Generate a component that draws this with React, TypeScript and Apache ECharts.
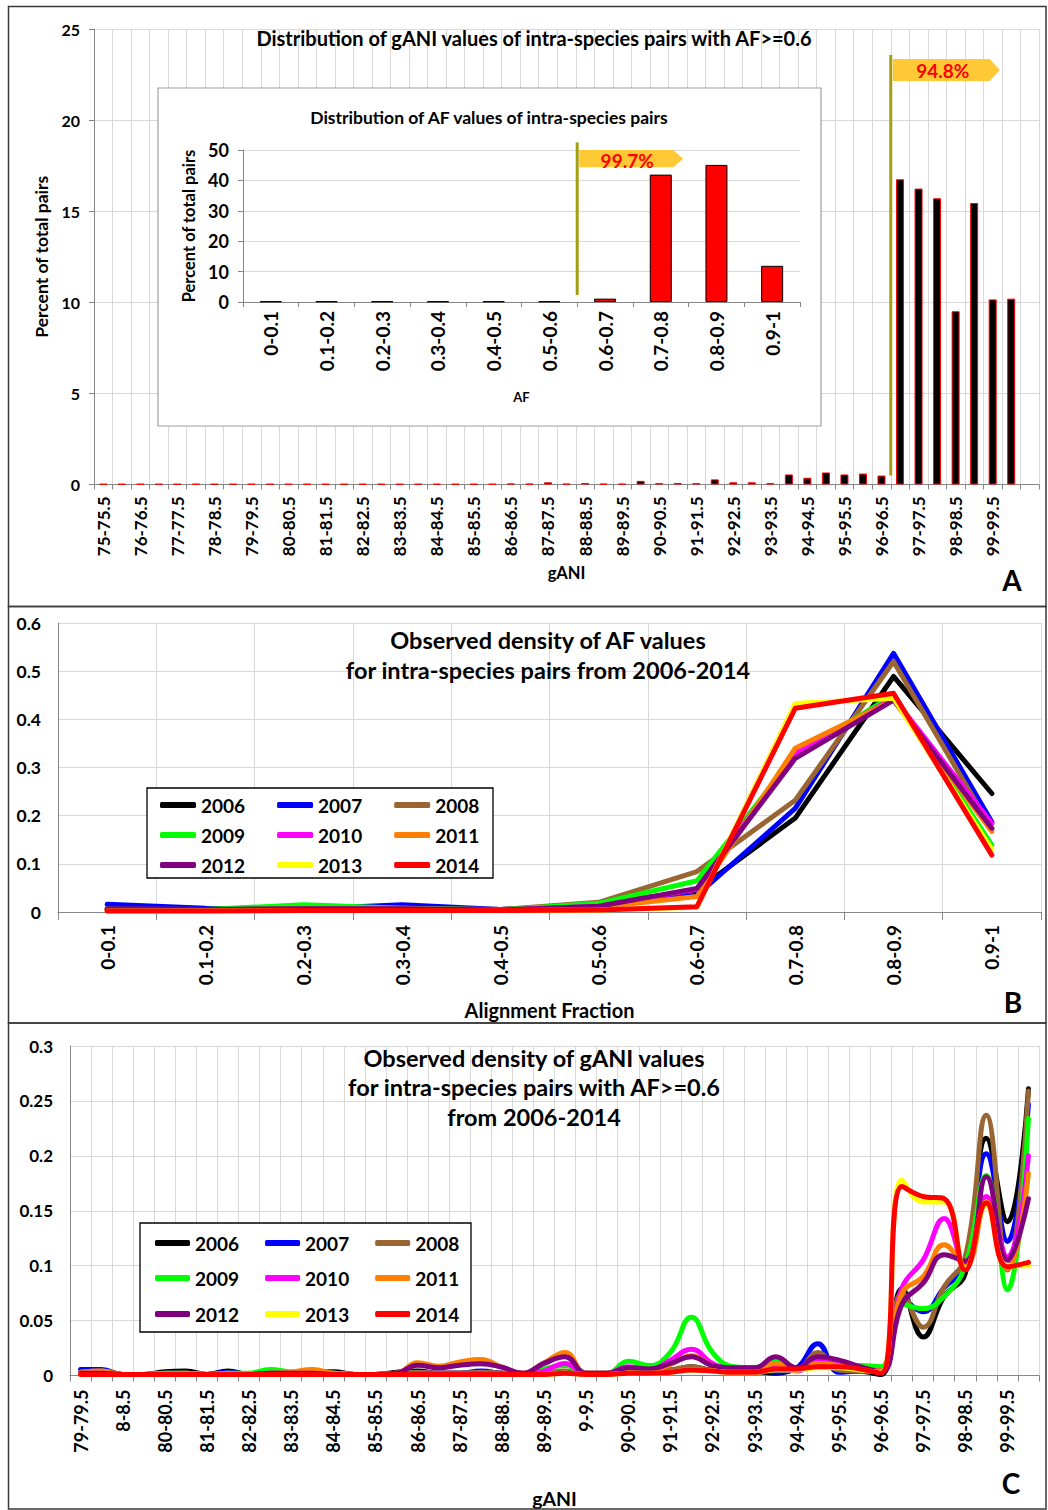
import React, { useEffect, useRef } from "react";
import * as echarts from "echarts";

// ---------- Panel A: gANI distribution (AF>=0.6) ----------
const ganiCats = ["75-75.5","75.5-76","76-76.5","76.5-77","77-77.5","77.5-78","78-78.5","78.5-79","79-79.5","79.5-80","80-80.5","80.5-81","81-81.5","81.5-82","82-82.5","82.5-83","83-83.5","83.5-84","84-84.5","84.5-85","85-85.5","85.5-86","86-86.5","86.5-87","87-87.5","87.5-88","88-88.5","88.5-89","89-89.5","89.5-90","90-90.5","90.5-91","91-91.5","91.5-92","92-92.5","92.5-93","93-93.5","93.5-94","94-94.5","94.5-95","95-95.5","95.5-96","96-96.5","96.5-97","97-97.5","97.5-98","98-98.5","98.5-99","99-99.5","99.5-100",""];
const ganiPercent = [0.03,0.03,0.03,0.03,0.03,0.03,0.03,0.03,0.03,0.03,0.03,0.03,0.03,0.03,0.03,0.03,0.03,0.03,0.03,0.03,0.03,0.03,0.05,0.04,0.12,0.04,0.08,0.04,0.04,0.2,0.07,0.08,0.07,0.28,0.12,0.12,0.07,0.55,0.37,0.66,0.55,0.6,0.49,16.75,16.24,15.71,9.51,15.45,10.16,10.2,null];
const ganiYTicks = [0, 25, 5];
const ganiShareLabel = "94.8%";

// ---------- Inset: AF distribution ----------
const afCats = ["0-0.1","0.1-0.2","0.2-0.3","0.3-0.4","0.4-0.5","0.5-0.6","0.6-0.7","0.7-0.8","0.8-0.9","0.9-1"];
const afPercent = [0.2,0.2,0.2,0.2,0.2,0.2,1.1,41.9,45.1,11.9];
const afYTicks = [0, 50, 10];
const afShareLabel = "99.7%";

// ---------- Panel B: density of AF per year ----------
const years = ["2006","2007","2008","2009","2010","2011","2012","2013","2014"];
const yearColors = ["#000000","#0000ff","#996633","#00ff00","#ff00ff","#ff8000","#800080","#ffff00","#ff0000"];
const afDens2006 = [0.006,0.005,0.01,0.008,0.005,0.015,0.045,0.195,0.489,0.246];
const afDens2007 = [0.016,0.008,0.006,0.015,0.005,0.012,0.035,0.215,0.537,0.187];
const afDens2008 = [0.006,0.005,0.008,0.008,0.005,0.02,0.084,0.232,0.52,0.172];
const afDens2009 = [0.005,0.005,0.015,0.008,0.004,0.018,0.065,0.326,0.45,0.139];
const afDens2010 = [0.004,0.004,0.006,0.006,0.004,0.012,0.047,0.33,0.444,0.184];
const afDens2011 = [0.004,0.004,0.006,0.006,0.004,0.01,0.032,0.34,0.44,0.167];
const afDens2012 = [0.006,0.005,0.007,0.007,0.004,0.012,0.049,0.319,0.44,0.174];
const afDens2013 = [0.002,0.002,0.003,0.003,0.003,0.004,0.01,0.433,0.444,0.13];
const afDens2014 = [0.002,0.002,0.003,0.003,0.003,0.004,0.011,0.423,0.454,0.118];
const afDensYTicks = [0, 0.6, 0.1];

// ---------- Panel C: density of gANI per year ----------
const gdCats = ["79-79.5","79.5-8","8-8.5","8.5-80","80-80.5","80.5-81","81-81.5","81.5-82","82-82.5","82.5-83","83-83.5","83.5-84","84-84.5","84.5-85","85-85.5","85.5-86","86-86.5","86.5-87","87-87.5","87.5-88","88-88.5","88.5-89","89-89.5","89.5-9","9-9.5","9.5-90","90-90.5","90.5-91","91-91.5","91.5-92","92-92.5","92.5-93","93-93.5","93.5-94","94-94.5","94.5-95","95-95.5","95.5-96","96-96.5","96.5-97","97-97.5","97.5-98","98-98.5","98.5-99","99-99.5","99.5-100"];
const gDens2006 = [0.002,0.002,0.001,0.001,0.0035,0.004,0.001,0.004,0.001,0.002,0.003,0.003,0.0035,0.001,0.001,0.003,0.004,0.002,0.002,0.003,0.002,0.001,0.002,0.003,0.001,0.001,0.004,0.003,0.004,0.008,0.005,0.005,0.004,0.002,0.006,0.012,0.005,0.004,0.001,0.079,0.035,0.072,0.093,0.216,0.14,0.261];
const gDens2007 = [0.0055,0.0055,0.001,0.001,0.002,0.002,0.001,0.003,0.001,0.002,0.002,0.002,0.002,0.001,0.001,0.002,0.002,0.002,0.002,0.004,0.002,0.001,0.002,0.003,0.001,0.001,0.004,0.004,0.005,0.007,0.005,0.005,0.005,0.003,0.007,0.029,0.003,0.004,0.004,0.07,0.058,0.08,0.1,0.202,0.122,0.247];
const gDens2008 = [0.003,0.004,0.001,0.001,0.002,0.002,0.001,0.002,0.001,0.002,0.002,0.003,0.002,0.001,0.001,0.002,0.003,0.002,0.002,0.003,0.002,0.001,0.002,0.004,0.001,0.001,0.004,0.004,0.005,0.008,0.005,0.005,0.005,0.009,0.006,0.021,0.005,0.004,0.004,0.075,0.044,0.081,0.108,0.237,0.096,0.259];
const gDens2009 = [0.002,0.002,0.001,0.001,0.002,0.002,0.001,0.002,0.002,0.0055,0.003,0.002,0.002,0.001,0.001,0.002,0.002,0.002,0.002,0.002,0.002,0.001,0.006,0.009,0.002,0.002,0.013,0.009,0.021,0.053,0.021,0.008,0.007,0.014,0.006,0.012,0.009,0.009,0.008,0.065,0.061,0.072,0.1,0.182,0.078,0.234];
const gDens2010 = [0.002,0.002,0.001,0.001,0.001,0.001,0.001,0.001,0.001,0.002,0.002,0.002,0.001,0.001,0.001,0.001,0.002,0.002,0.002,0.002,0.002,0.001,0.004,0.011,0.002,0.002,0.008,0.005,0.014,0.024,0.011,0.006,0.006,0.009,0.004,0.014,0.011,0.007,0.004,0.08,0.105,0.143,0.1,0.163,0.108,0.2];
const gDens2011 = [0.003,0.004,0.001,0.001,0.001,0.002,0.001,0.001,0.001,0.002,0.003,0.0055,0.002,0.001,0.001,0.002,0.0115,0.0085,0.0124,0.0145,0.0076,0.002,0.0115,0.021,0.002,0.002,0.005,0.004,0.01,0.018,0.009,0.006,0.006,0.011,0.005,0.011,0.009,0.006,0.004,0.075,0.09,0.119,0.1,0.158,0.097,0.184];
const gDens2012 = [0.002,0.002,0.001,0.001,0.001,0.001,0.001,0.001,0.001,0.002,0.002,0.002,0.001,0.001,0.001,0.002,0.0094,0.007,0.0094,0.0106,0.0076,0.002,0.011,0.017,0.002,0.002,0.007,0.006,0.011,0.017,0.009,0.007,0.007,0.017,0.007,0.017,0.014,0.008,0.003,0.065,0.084,0.11,0.104,0.181,0.105,0.161];
const gDens2013 = [0.001,0.001,0.001,0.001,0.001,0.001,0.001,0.001,0.001,0.001,0.001,0.001,0.001,0.001,0.001,0.001,0.001,0.001,0.001,0.001,0.001,0.001,0.001,0.002,0.001,0.001,0.002,0.002,0.003,0.005,0.004,0.003,0.003,0.005,0.005,0.007,0.007,0.005,0.003,0.178,0.158,0.158,0.097,0.155,0.1,0.1];
const gDens2014 = [0.001,0.001,0.001,0.001,0.001,0.001,0.001,0.001,0.001,0.001,0.001,0.001,0.001,0.001,0.001,0.001,0.001,0.001,0.001,0.001,0.001,0.001,0.001,0.002,0.001,0.001,0.002,0.002,0.003,0.005,0.004,0.003,0.003,0.006,0.006,0.008,0.008,0.006,0.002,0.172,0.163,0.161,0.096,0.157,0.099,0.103];
const gDensYTicks = [0, 0.3, 0.05];

const afDensSeries = [afDens2006, afDens2007, afDens2008, afDens2009, afDens2010, afDens2011, afDens2012, afDens2013, afDens2014];
const gDensSeries = [gDens2006, gDens2007, gDens2008, gDens2009, gDens2010, gDens2011, gDens2012, gDens2013, gDens2014];

const FONT = "Lato";
const GRID = "#d9d9d9";
const AXIS = "#868686";

function catAxis(gridIndex: number, data: string[], o: any) {
  return {
    type: "category",
    gridIndex,
    data,
    boundaryGap: true,
    z: o.z ?? 0,
    axisLine: { show: true, lineStyle: { color: AXIS, width: 1 } },
    axisTick: { show: true, interval: 0, length: o.tick ?? 5, lineStyle: { color: AXIS } },
    axisLabel: {
      interval: o.labelInterval ?? 0,
      rotate: 90,
      margin: o.margin ?? 12,
      color: "#000",
      fontFamily: FONT,
      fontWeight: "bold",
      fontSize: o.fontSize ?? 15,
    },
    splitLine: { show: o.split ?? true, interval: 0, lineStyle: { color: GRID, width: 1 } },
    name: o.name,
    nameLocation: "middle",
    nameGap: o.nameGap,
    nameTextStyle: { color: "#000", fontFamily: FONT, fontWeight: "bold", fontSize: o.nameSize ?? 15 },
  };
}

function valAxis(gridIndex: number, ticks: number[], o: any) {
  return {
    type: "value",
    gridIndex,
    min: ticks[0],
    max: ticks[1],
    interval: ticks[2],
    z: o.z ?? 0,
    axisLine: { show: true, lineStyle: { color: AXIS, width: 1 } },
    axisTick: { show: o.tick ?? true, length: 5, lineStyle: { color: AXIS } },
    axisLabel: { margin: o.margin ?? 14, color: "#000", fontFamily: FONT, fontWeight: "bold", fontSize: o.fontSize ?? 15 },
    splitLine: { show: true, lineStyle: { color: GRID, width: 1 } },
    name: o.name,
    nameLocation: "middle",
    nameGap: o.nameGap,
    nameRotate: 90,
    nameTextStyle: { color: "#000", fontFamily: FONT, fontWeight: "bold", fontSize: o.nameSize ?? 15 },
  };
}

function legendRows(rows: string[][], left: number, tops: number[], gap: number, w: number) {
  return rows.map((r, i) => ({
    data: r,
    left,
    top: tops[i],
    orient: "horizontal",
    itemGap: gap,
    itemWidth: w,
    itemHeight: 6,
    icon: "roundRect",
    padding: 0,
    selectedMode: false,
    textStyle: { color: "#000", fontFamily: FONT, fontWeight: "bold", fontSize: 19, lineHeight: 22 },
  }));
}

const legendGroups = [years.slice(0, 3), years.slice(3, 6), years.slice(6, 9)];

function buildOption() {
  const series: any[] = [
    {
      type: "bar",
      xAxisIndex: 0,
      yAxisIndex: 0,
      data: ganiPercent,
      barWidth: 8,
      z: 2,
      itemStyle: { color: "#000000", borderColor: "#ff0000", borderWidth: 1 },
    },
    {
      type: "bar",
      xAxisIndex: 1,
      yAxisIndex: 1,
      data: afPercent,
      barWidth: 22,
      z: 5,
      itemStyle: { color: "#ff0000", borderColor: "#000000", borderWidth: 1 },
    },
  ];
  years.forEach((y, i) => {
    series.push({
      type: "line",
      name: y,
      xAxisIndex: 2,
      yAxisIndex: 2,
      data: afDensSeries[i],
      showSymbol: false,
      symbol: "none",
      color: yearColors[i],
      lineStyle: { width: 5, color: yearColors[i], cap: "round", join: "round" },
    });
  });
  years.forEach((y, i) => {
    series.push({
      type: "line",
      name: y,
      xAxisIndex: 3,
      yAxisIndex: 3,
      data: gDensSeries[i],
      smooth: 0.45,
      showSymbol: false,
      symbol: "none",
      color: yearColors[i],
      lineStyle: { width: 5, color: yearColors[i], cap: "round", join: "round" },
    });
  });

  return {
    animation: false,
    backgroundColor: "#ffffff",
    textStyle: { fontFamily: FONT },
    grid: [
      { left: 94, right: 9, top: 29, bottom: 1025.5 },
      { left: 243, right: 248, top: 150, bottom: 1208 },
      { left: 58, right: 7, top: 623, bottom: 598 },
      { left: 70, right: 9, top: 1046, bottom: 134.5 },
    ],
    xAxis: [
      catAxis(0, ganiCats, { labelInterval: 1, margin: 12, fontSize: 17, name: "gANI", nameGap: 80, nameSize: 16.5 }),
      catAxis(1, afCats, { z: 4, margin: 9, fontSize: 19, split: false, name: "AF", nameGap: 88, nameSize: 13, tick: 5 }),
      catAxis(2, afCats, { margin: 13, fontSize: 19, name: "Alignment Fraction", nameGap: 88, nameSize: 20, tick: 8 }),
      catAxis(3, gdCats, { labelInterval: 1, margin: 14, fontSize: 18, name: "gANI", nameGap: 113, nameSize: 19.5, tick: 6 }),
    ],
    yAxis: [
      valAxis(0, ganiYTicks, { margin: 14, fontSize: 16, name: "Percent of total pairs", nameGap: 41, nameSize: 17.5 }),
      valAxis(1, afYTicks, { z: 4, margin: 14, fontSize: 18, name: "Percent of total pairs", nameGap: 43, nameSize: 16.5 }),
      valAxis(2, afDensYTicks, { margin: 17, fontSize: 17.5, tick: false }),
      valAxis(3, gDensYTicks, { margin: 17, fontSize: 17, tick: false }),
    ],
    legend: [
      ...legendRows(legendGroups, 160, [794, 824, 854], 32, 36),
      ...legendRows(legendGroups, 155, [1232, 1267, 1303], 26, 35),
    ],
    series,
  };
}

export default function App() {
  const ref = useRef<HTMLDivElement>(null);
  useEffect(() => {
    const chart = echarts.init(ref.current as HTMLDivElement, null, { renderer: "svg" });
    chart.setOption(buildOption() as any);

    // Positions of the threshold markers, derived from the axes
    const px = (axis: number, v: any) => chart.convertToPixel({ xAxisIndex: axis } as any, v) as unknown as number;
    const py = (axis: number, v: number) => chart.convertToPixel({ yAxisIndex: axis } as any, v) as unknown as number;
    const lineA = (px(0, ganiCats[42]) + px(0, ganiCats[43])) / 2;
    const lineI = (px(1, afCats[5]) + px(1, afCats[6])) / 2;

    const flag = (x: number, yTop: number, yBot: number, w: number) => ({
      type: "polygon",
      z: 11,
      shape: {
        points: [
          [x, yTop],
          [x + w - 10, yTop],
          [x + w, (yTop + yBot) / 2],
          [x + w - 10, yBot],
          [x, yBot],
        ],
      },
      style: { fill: "#ffc936" },
    });
    const txt = (text: string, x: number, y: number, font: string, fill = "#000", lh = 30) => ({
      type: "text",
      z: 12,
      x,
      y,
      style: {
        text,
        font,
        fill,
        lineHeight: lh,
        align: "center",
        verticalAlign: "middle",
        textAlign: "center",
        textVerticalAlign: "middle",
      },
    });

    const graphic: any[] = [
      // inset background
      { type: "rect", z: 3, shape: { x: 158, y: 88, width: 663, height: 338 }, style: { fill: "#ffffff", stroke: "#a0a0a0", lineWidth: 1.2 } },
      // legend boxes
      { type: "rect", z: 3, shape: { x: 147, y: 788, width: 346, height: 90 }, style: { fill: "#ffffff", stroke: "#000000", lineWidth: 1.3 } },
      { type: "rect", z: 3, shape: { x: 140, y: 1223, width: 331, height: 109 }, style: { fill: "#ffffff", stroke: "#000000", lineWidth: 1.3 } },
      // panel borders
      { type: "rect", z: 20, shape: { x: 8.5, y: 6.5, width: 1037.5, height: 600 }, style: { fill: "none", stroke: "#3a3a3a", lineWidth: 1.5 } },
      { type: "rect", z: 20, shape: { x: 8.5, y: 606.5, width: 1037.5, height: 416.5 }, style: { fill: "none", stroke: "#3a3a3a", lineWidth: 1.5 } },
      { type: "rect", z: 20, shape: { x: 8.5, y: 1023, width: 1037.5, height: 486 }, style: { fill: "none", stroke: "#3a3a3a", lineWidth: 1.5 } },
      // titles
      txt("Distribution of gANI values of intra-species pairs with AF>=0.6", 534, 38, `bold 20px ${FONT}`),
      txt("Distribution of AF values of intra-species pairs", 489, 117, `bold 17.5px ${FONT}`),
      txt("Observed density of AF values\nfor intra-species pairs from 2006-2014", 548, 655, `bold 23.5px ${FONT}`),
      txt("Observed density of gANI values\nfor intra-species pairs with AF>=0.6\nfrom 2006-2014", 534, 1087, `bold 23.5px ${FONT}`, "#000", 29.5),
      // panel letters
      txt("A", 1012, 580, `bold 28px ${FONT}`),
      txt("B", 1013, 1002, `bold 28px ${FONT}`),
      txt("C", 1011, 1483, `bold 28px ${FONT}`),
      // panel A threshold marker
      { type: "line", z: 11, shape: { x1: lineA, y1: py(0, 23.57), x2: lineA, y2: py(0, 0.5) }, style: { stroke: "#a39f10", lineWidth: 3 } },
      flag(lineA + 2, py(0, 23.35), py(0, 22.15), 107),
      txt(ganiShareLabel, lineA + 52, py(0, 22.75) + 1, `bold 19px ${FONT}`, "#ff0000"),
      // inset threshold marker
      { type: "line", z: 11, shape: { x1: lineI, y1: py(1, 52.5), x2: lineI, y2: py(1, 2.3) }, style: { stroke: "#a39f10", lineWidth: 3 } },
      flag(lineI + 2, py(1, 50), py(1, 44.3), 104),
      txt(afShareLabel, lineI + 50, py(1, 46.9) + 1, `bold 19px ${FONT}`, "#ff0000"),
    ];
    chart.setOption({ graphic } as any);
    return () => chart.dispose();
  }, []);
  return <div ref={ref} style={{ position: "absolute", left: 0, top: 0, width: 1048, height: 1510 }} />;
}
